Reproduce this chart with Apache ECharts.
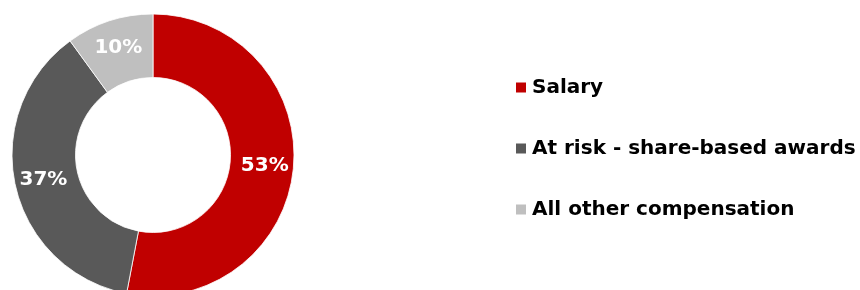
<!DOCTYPE html>
<html>
<head>
<meta charset="utf-8">
<style>
  html, body { margin: 0; padding: 0; background: #fff; }
  #chart { width: 860px; height: 290px; }
</style>
<script src="https://cdn.jsdelivr.net/npm/echarts@6/dist/echarts.min.js"></script>
</head>
<body>
<div id="chart"></div>
<script>
var categories = ['Salary', 'At risk - share-based awards', 'All other compensation'];
var shares = [53, 37, 10];
var colors = ['#C00000', '#595959', '#BFBFBF'];

var myChart = echarts.init(document.getElementById('chart'));
var pieData = [];
for (var i = 0; i < categories.length; i++) {
  pieData.push({ name: categories[i], value: shares[i], itemStyle: { color: colors[i] } });
}

var option = {
  backgroundColor: '#ffffff',
  animation: false,
  legend: {
    orient: 'vertical',
    left: 509,
    top: 71,
    icon: 'rect',
    itemWidth: 12,
    itemHeight: 12,
    itemGap: 38,
    selectedMode: false,
    data: categories,
    textStyle: {
      color: '#000',
      fontFamily: 'DejaVu Sans, sans-serif',
      fontWeight: 'bold',
      fontSize: 20,
      lineHeight: 23
    }
  },
  series: [
    {
      type: 'pie',
      center: [153, 155],
      radius: [77.5, 141],
      startAngle: 90,
      clockwise: true,
      avoidLabelOverlap: false,
      itemStyle: {
        borderColor: '#ffffff',
        borderWidth: 0.8
      },
      label: {
        show: true,
        position: 'inside',
        formatter: '{c}%',
        color: '#ffffff',
        fontFamily: 'DejaVu Sans, sans-serif',
        fontWeight: 'bold',
        fontSize: 20
      },
      labelLine: { show: false },
      emphasis: { disabled: true },
      data: pieData
    }
  ]
};
myChart.setOption(option);
window.addEventListener('resize', function () {
  myChart.resize();
});
</script>
</body>
</html>
